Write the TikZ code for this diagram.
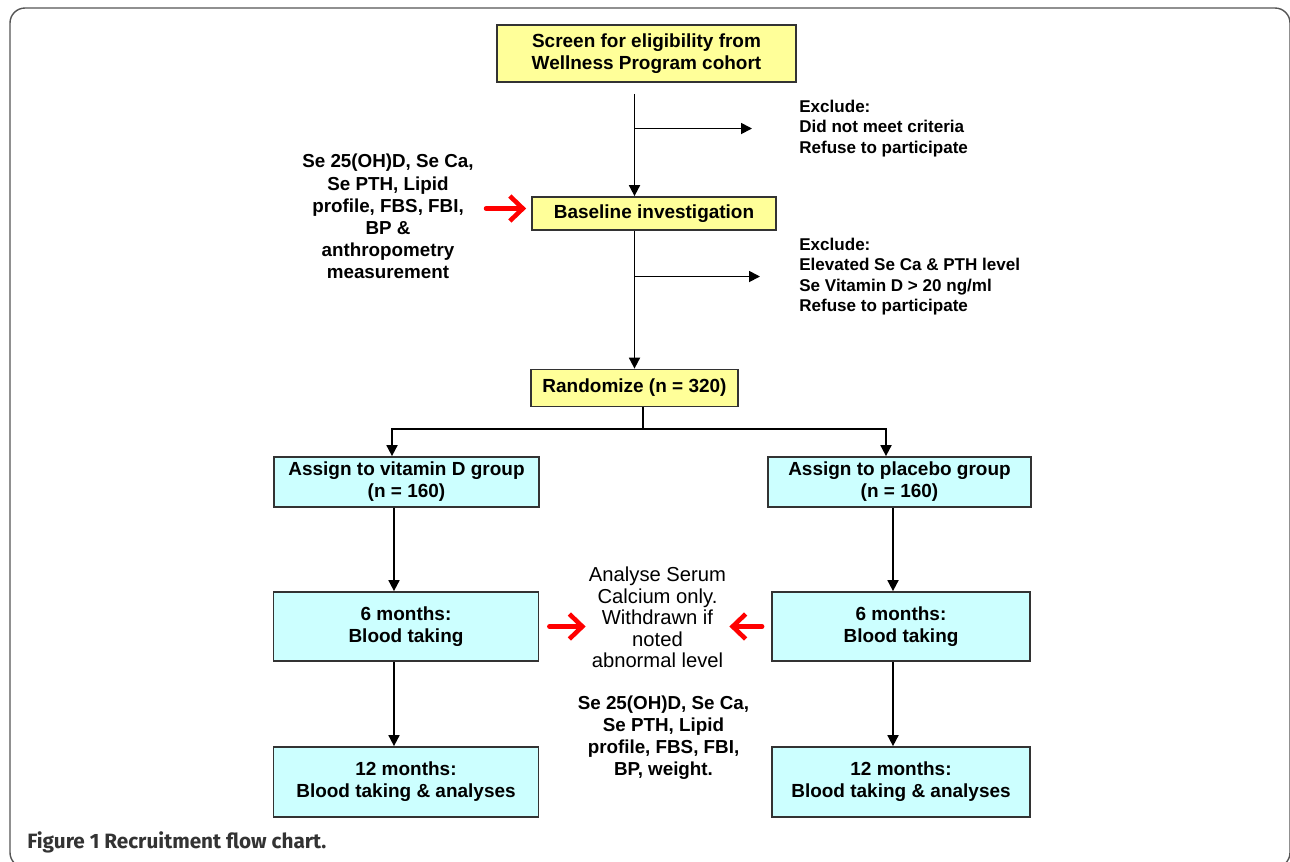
\documentclass[tikz,border=0pt]{standalone}
\usepackage{fontspec}
\setmainfont{Liberation Sans}
\newfontfamily\capfont{Fira Sans}
\usepackage{xcolor}
\usepackage{tikz}
\usetikzlibrary{positioning, arrows.meta}
\definecolor{BoxYellow}{HTML}{FFFF99}
\definecolor{BoxCyan}{HTML}{CCFFFF}
\definecolor{EdgeGray}{HTML}{333333}
\definecolor{FrameGray}{HTML}{555555}
\definecolor{CapGray}{HTML}{333333}

\begin{document}
\begin{tikzpicture}[
            ybox/.style={draw=EdgeGray, line width=1pt, fill=BoxYellow, align=center, inner sep=0pt, font=\fontsize{10.8}{12.5}\selectfont\bfseries},
            cbox/.style={ybox, fill=BoxCyan, minimum width=5.3cm},
            arrow/.style={-{Triangle[length=0.22cm, width=0.22cm]}, line width=1pt},
            redarrow/.style={-{Straight Barb[length=0.26cm, width=0.5cm]}, line width=2.6pt, red, line cap=round},
            note/.style={align=center, inner sep=0pt, font=\fontsize{10.7}{12.6}\selectfont\bfseries},
            excl/.style={align=left, anchor=west, inner sep=0pt, font=\fontsize{9.7}{11.5}\selectfont\bfseries}
        ]
            \useasboundingbox (0,0) rectangle (25.8,-17.22);
            \draw[FrameGray, line width=0.8pt, rounded corners=0.3cm] (0.2,-0.16) rectangle (25.8,-17.35);

            % Screening and baseline
            \node[ybox, minimum width=5.98cm, minimum height=1.14cm] at (12.93,-1.07) (screen) {Screen for eligibility from\\Wellness Program cohort};
            \node[ybox, minimum width=4.88cm, minimum height=0.66cm] at (13.08,-4.27) (base) {Baseline investigation};
            \node[ybox, minimum width=4.13cm, minimum height=0.74cm] at (12.69,-7.76) (rand) {Randomize (n = 320)};

            \node[excl] at (15.98,-2.57) (exone) {Exclude:\\Did not meet criteria\\Refuse to participate};
            \node[excl] at (15.98,-5.53) (extwo) {Exclude:\\Elevated Se Ca \& PTH level\\Se Vitamin D > 20 ng/ml\\Refuse to participate};
            \node[note] at (7.76,-4.33) (labs) {Se 25(OH)D, Se Ca,\\Se PTH, Lipid\\profile, FBS, FBI,\\BP \&\\anthropometry\\measurement};

            % Spine with exclusions
            \coordinate (spinetop) at ([yshift=-0.22cm]screen.south -| rand.north);
            \draw[arrow] (spinetop) -- (spinetop |- base.north);
            \draw[arrow] (base.south -| rand.north) -- (rand.north);
            \coordinate (exfork1) at (rand.north |- exone.west);
            \coordinate (exfork2) at (rand.north |- extwo.west);
            \draw[arrow] (exfork1) -- ([xshift=-0.94cm]exone.west);
            \draw[arrow] (exfork2) -- ([xshift=-0.78cm]extwo.west);

            \coordinate (labin) at ([yshift=0.1cm]base.west);
            \draw[redarrow] ([xshift=0.24cm]labs.east |- labin) -- ([xshift=-0.1cm]labin);

            % Two arms
            \node[cbox, minimum height=1.0cm] at (8.13,-9.64) (vit) {Assign to vitamin D group\\(n = 160)};
            \node[cbox, minimum width=5.26cm, minimum height=1.0cm] at (17.99,-9.64) (plac) {Assign to placebo group\\(n = 160)};
            \node[cbox, minimum height=1.38cm] at (8.12,-12.53) (sixl) {6 months:\\Blood taking};
            \node[cbox, minimum width=5.16cm, minimum height=1.38cm] at (18.02,-12.53) (sixr) {6 months:\\Blood taking};
            \node[cbox, minimum height=1.4cm] at (8.12,-15.64) (twl) {12 months:\\Blood taking \& analyses};
            \node[cbox, minimum width=5.16cm, minimum height=1.4cm] at (18.02,-15.64) (twr) {12 months:\\Blood taking \& analyses};

            \coordinate (split) at (12.86,-8.58);
            \draw[line width=1pt] (split |- rand.south) -- (split);
            \draw[arrow] (split) -| ([xshift=-0.29cm]vit.north);
            \draw[arrow] (split) -| ([xshift=-0.27cm]plac.north);

            \draw[arrow] ([xshift=-0.25cm]vit.south) -- ([xshift=-0.24cm]sixl.north);
            \draw[arrow] ([xshift=-0.13cm]plac.south) -- ([xshift=-0.16cm]sixr.north);
            \draw[arrow] ([xshift=-0.24cm]sixl.south) -- ([xshift=-0.24cm]twl.north);
            \draw[arrow] ([xshift=-0.16cm]sixr.south) -- ([xshift=-0.16cm]twr.north);

            % Notes between the arms
            \node[note, font=\fontsize{11.5}{12.2}\selectfont] at (13.15,-12.35) (calc) {Analyse Serum\\Calcium only.\\Withdrawn if\\noted\\abnormal level};
            \node[note] at (13.27,-14.75) (labs2) {Se 25(OH)D, Se Ca,\\Se PTH, Lipid\\profile, FBS, FBI,\\BP, weight.};

            \draw[redarrow] ([xshift=0.2cm]sixl.east) -- ([xshift=-0.06cm]calc.west |- sixl.east);
            \draw[redarrow] ([xshift=-0.18cm]sixr.west) -- ([xshift=0.06cm]calc.east |- sixr.west);

            % Caption
            \node[anchor=west, inner sep=0pt, text=CapGray, font=\capfont\bfseries\fontsize{11.8}{13}\selectfont] at (0.54,-16.85) (cap) {Figure 1 Recruitment flow chart.};

        \end{tikzpicture}
\end{document}
